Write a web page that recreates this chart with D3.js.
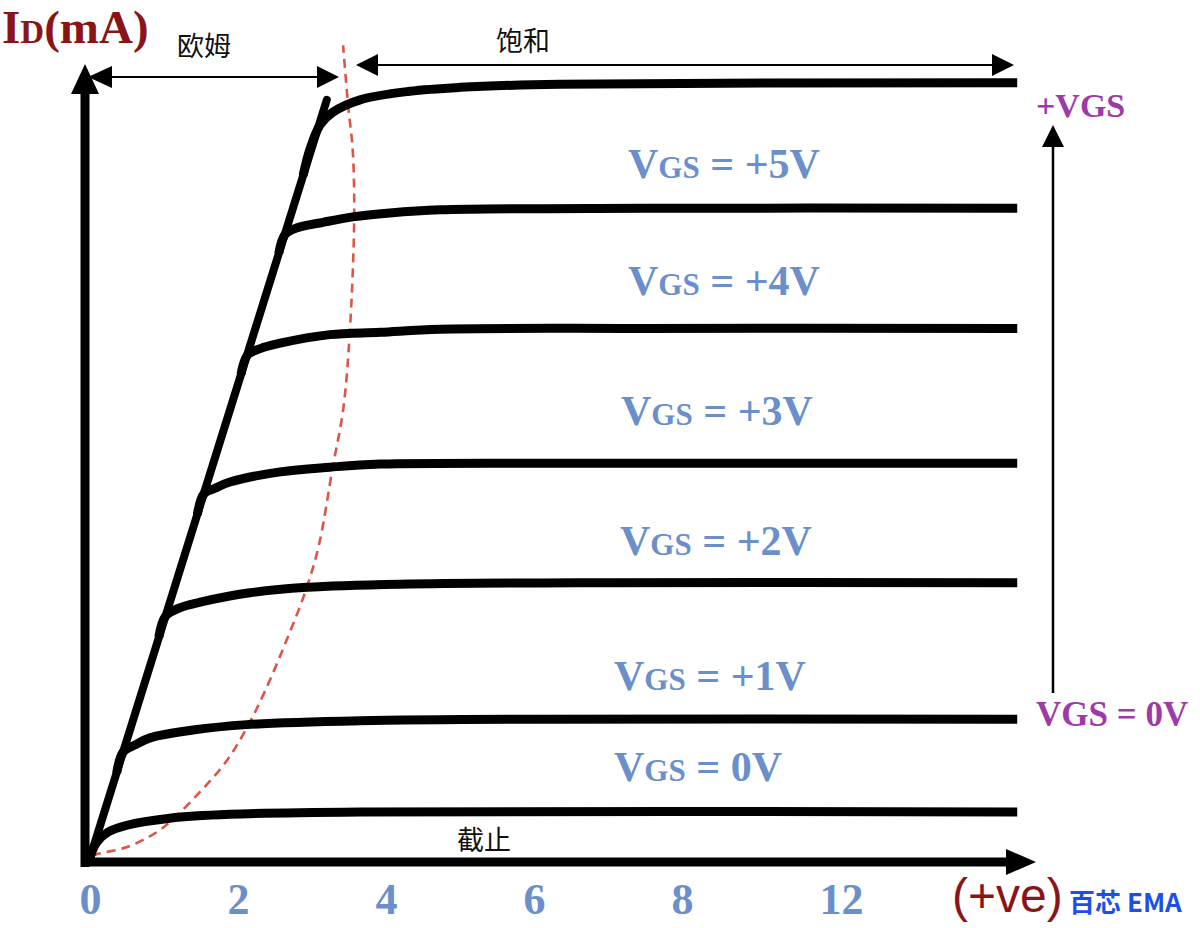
<!DOCTYPE html>
<html><head><meta charset="utf-8">
<script src="https://cdn.jsdelivr.net/npm/d3@7/dist/d3.min.js"></script>
<style>html,body{margin:0;padding:0;background:#fff;}svg{display:block;}</style>
</head><body>
<svg id="chart" width="1200" height="928"></svg>
<script>
// ---------- data ----------
const xTickPositions = [0, 2, 4, 6, 8, 10.15];
const xTickLabels = ["0", "2", "4", "6", "8", "12"];
const vgsLabels = ["+5V", "+4V", "+3V", "+2V", "+1V", "0V"];
// ohmic region line (VDS, ID)
const ohmicLine = [[0, 0], [3.2, 9.72]];
// output characteristic curves (VDS, ID), bottom to top
const curve0 = [[0,0.01],[0.09,0.2],[0.24,0.33],[0.5,0.42],[1.08,0.51],[1.89,0.56],[3.65,0.59],[12.53,0.59]];
const curve1 = [[0.36,1.09],[0.45,1.36],[0.61,1.45],[0.81,1.54],[1.39,1.64],[2.12,1.71],[3.65,1.76],[6.0,1.78],[12.53,1.78]];
const curve2 = [[0.93,2.83],[1.02,3.10],[1.22,3.21],[1.49,3.28],[2.16,3.40],[2.93,3.47],[4.19,3.51],[7.0,3.53],[12.53,3.53]];
const curve3 = [[1.45,4.40],[1.54,4.67],[1.69,4.74],[1.89,4.82],[2.57,4.95],[3.24,5.01],[3.92,5.05],[7.0,5.06],[12.53,5.06]];
const curve4 = [[2.04,6.20],[2.13,6.45],[2.30,6.53],[2.57,6.60],[3.24,6.71],[3.92,6.74],[4.73,6.78],[7.5,6.79],[12.53,6.79]];
const curve5 = [[2.55,7.75],[2.64,8.00],[2.80,8.08],[3.15,8.15],[3.55,8.22],[4.05,8.27],[4.73,8.31],[7.5,8.33],[12.53,8.33]];
const curve6 = [[2.88,8.75],[2.97,9.08],[3.11,9.40],[3.28,9.56],[3.65,9.72],[4.32,9.83],[5.0,9.88],[6.35,9.92],[12.53,9.94]];
const curves = [curve0, curve1, curve2, curve3, curve4, curve5, curve6];
// pinch-off boundary (VDS, ID)
const pinchOff = [[0.03,0.03],[0.14,0.06],[0.5,0.14],[0.9,0.33],[1.1,0.48],[1.49,0.85],[1.85,1.25],[2.12,1.67],[2.36,2.13],[2.66,2.80],[2.93,3.47],[3.1,4.04],[3.28,5.01],[3.42,5.74],[3.51,6.73],[3.57,8.22],[3.55,9.08],[3.49,9.63],[3.42,10.42]];

// ---------- layout ----------
const svg = d3.select("#chart");
const x = d3.scaleLinear().domain([0, 10]).range([90, 830]);
const y = d3.scaleLinear().domain([0, 10]).range([858, 78]);
const BLUE = "#6a8fcb", PURPLE = "#9d3aa9", DRED = "#8a1518";
const serif = "'Liberation Serif','Times New Roman',serif";
const sans = "'Liberation Sans',Arial,sans-serif";
const cjk = "'Noto Sans CJK SC','Noto Sans',sans-serif";

function tri(tip, dir, len, half) {
  const [tx, ty] = tip;
  let pts;
  if (dir === "up") pts = [[tx, ty], [tx - half, ty + len], [tx + half, ty + len]];
  else if (dir === "right") pts = [[tx, ty], [tx - len, ty - half], [tx - len, ty + half]];
  else if (dir === "left") pts = [[tx, ty], [tx + len, ty - half], [tx + len, ty + half]];
  return "M" + pts.map(p => p.join(",")).join("L") + "Z";
}

// axes lines
const ax0 = x(0) - 5, ay0 = y(0) + 4;
svg.append("line").attr("x1", ax0).attr("x2", ax0).attr("y1", ay0 + 5).attr("y2", 88)
  .attr("stroke", "#000").attr("stroke-width", 9);
svg.append("path").attr("d", tri([ax0, 64], "up", 30, 14)).attr("fill", "#000");
svg.append("line").attr("x1", ax0 - 4).attr("x2", 1010).attr("y1", ay0).attr("y2", ay0)
  .attr("stroke", "#000").attr("stroke-width", 9);
svg.append("path").attr("d", tri([1036, ay0], "right", 30, 13)).attr("fill", "#000");

// x tick labels via d3 axis
const xAxis = d3.axisBottom(x).tickValues(xTickPositions)
  .tickFormat((d, i) => xTickLabels[i]).tickSize(0).tickPadding(0);
const gx = svg.append("g").attr("transform", "translate(0,914)").call(xAxis);
gx.select(".domain").remove();
gx.selectAll("text").attr("dy", 0).attr("y", 0)
  .attr("font-family", serif).attr("font-weight", "bold").attr("font-size", 44).attr("fill", BLUE);

// pinch-off dashed curve
svg.append("path").datum(pinchOff)
  .attr("d", d3.line().x(d => x(d[0])).y(d => y(d[1])).curve(d3.curveCatmullRom.alpha(0.5)))
  .attr("fill", "none").attr("stroke", "#dc5548").attr("stroke-width", 2.6)
  .attr("stroke-dasharray", "9,6");

// ohmic line
svg.append("path").datum(ohmicLine).attr("d", d3.line().x(d => x(d[0])).y(d => y(d[1])))
  .attr("fill", "none").attr("stroke", "#000").attr("stroke-width", 8).attr("stroke-linecap", "round");

// curves
const curveGen = d3.line().x(d => x(d[0])).y(d => y(d[1])).curve(d3.curveCatmullRom.alpha(0.5));
svg.append("g").selectAll("path").data(curves).join("path")
  .attr("d", curveGen).attr("fill", "none").attr("stroke", "#000")
  .attr("stroke-width", 9).attr("stroke-linecap", "butt").attr("stroke-linejoin", "round");

// VGS labels
const labelPos = [[628, 178], [628, 295], [621, 425], [620, 555], [614, 690], [614, 781]];
vgsLabels.forEach((lab, i) => {
  const t = svg.append("text").attr("x", labelPos[i][0]).attr("y", labelPos[i][1])
    .attr("font-family", serif).attr("font-weight", "bold").attr("fill", BLUE).attr("font-size", 42);
  t.append("tspan").text("V");
  t.append("tspan").attr("font-size", 31).text("GS");
  t.append("tspan").text(" = " + lab);
});

// right side VGS arrow
svg.append("line").attr("x1", 1053).attr("x2", 1053).attr("y1", 693).attr("y2", 140)
  .attr("stroke", "#000").attr("stroke-width", 2.5);
svg.append("path").attr("d", tri([1053, 125], "up", 22, 11)).attr("fill", "#000");
svg.append("text").attr("x", 1036).attr("y", 117).attr("font-family", serif).attr("font-weight", "bold")
  .attr("font-size", 34).attr("fill", PURPLE).text("+VGS");
svg.append("text").attr("x", 1036).attr("y", 726).attr("font-family", serif).attr("font-weight", "bold")
  .attr("font-size", 35).attr("fill", PURPLE).text("VGS = 0V");

// Ohmic arrow
svg.append("line").attr("x1", 100).attr("x2", 325).attr("y1", 77).attr("y2", 77)
  .attr("stroke", "#000").attr("stroke-width", 2);
svg.append("path").attr("d", tri([88, 77], "left", 24, 11)).attr("fill", "#000");
svg.append("path").attr("d", tri([339, 77], "right", 22, 11)).attr("fill", "#000");
// Saturation arrow
svg.append("line").attr("x1", 370).attr("x2", 1000).attr("y1", 65).attr("y2", 65)
  .attr("stroke", "#000").attr("stroke-width", 2);
svg.append("path").attr("d", tri([356, 65], "left", 22, 11)).attr("fill", "#000");
svg.append("path").attr("d", tri([1014, 65], "right", 22, 11)).attr("fill", "#000");

// Chinese labels
svg.append("text").attr("x", 177).attr("y", 56).attr("font-family", cjk).attr("font-size", 27).attr("fill", "#111").text("欧姆");
svg.append("text").attr("x", 496).attr("y", 51).attr("font-family", cjk).attr("font-size", 27).attr("fill", "#111").text("饱和");
svg.append("text").attr("x", 457).attr("y", 850).attr("font-family", cjk).attr("font-size", 27).attr("fill", "#111").text("截止");

// Y axis title
const yt = svg.append("text").attr("x", 2).attr("y", 43).attr("font-family", serif)
  .attr("font-weight", "bold").attr("font-size", 47).attr("fill", DRED);
yt.append("tspan").text("I");
yt.append("tspan").attr("font-size", 33).text("D");
yt.append("tspan").text("(mA)");

// X axis unit
svg.append("text").attr("x", 952).attr("y", 912).attr("font-family", sans).attr("font-size", 48)
  .attr("fill", DRED).text("(+ve)");
// watermark
svg.append("text").attr("x", 1069).attr("y", 912).attr("font-family", "'Noto Sans CJK SC',sans-serif")
  .attr("font-weight", "bold").attr("font-size", 26).attr("fill", "#1d4fe6").text("百芯 EMA");
</script>
</body></html>
